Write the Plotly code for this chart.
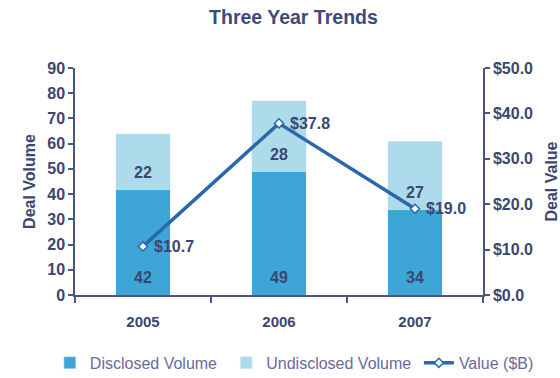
import plotly.graph_objects as go

years = ["2005", "2006", "2007"]
disclosed = [42, 49, 34]
undisclosed = [22, 28, 27]
value_b = [10.7, 37.8, 19.0]

txt = "#3A4770"
c_disc = "#3DA6D6"
c_undisc = "#AEDBEC"
c_line = "#2A67AD"
ax_c = "#4A5580"
leg_c = "#6A6AA0"
font_fam = "Arial, Liberation Sans, sans-serif"

fig = go.Figure()
fig.add_trace(go.Bar(x=years, y=disclosed, name="Disclosed Volume",
                     marker_color=c_disc, yaxis="y", legend="legend"))
fig.add_trace(go.Bar(x=years, y=undisclosed, name="Undisclosed Volume",
                     marker_color=c_undisc, yaxis="y", legend="legend2"))
fig.add_trace(go.Scatter(x=years, y=value_b, name="Value ($B)", yaxis="y2",
                         legend="legend3",
                         mode="lines+markers",
                         line=dict(color=c_line, width=3.5),
                         marker=dict(symbol="diamond", size=7, color="white",
                                     line=dict(color=c_line, width=1.5))))

lab_font = dict(size=16, color=txt, family=font_fam, weight="bold")
ann = []
for i, y in enumerate(years):
    ann.append(dict(x=i, y=0, xref="x", yref="y", text=str(disclosed[i]),
                    showarrow=False, yanchor="middle", yshift=18, font=lab_font))
    ann.append(dict(x=i, y=disclosed[i], xref="x", yref="y", text=str(undisclosed[i]),
                    showarrow=False, yanchor="middle", yshift=17, font=lab_font))
    ann.append(dict(x=i, y=value_b[i], xref="x", yref="y2", text=f"${value_b[i]:.1f}",
                    showarrow=False, xanchor="left", yanchor="middle", xshift=9,
                    font=lab_font))


def leg(x):
    return dict(orientation="h", xref="container", yref="container",
                x=x, xanchor="left", y=0.04, yanchor="middle",
                font=dict(size=16, color=leg_c, family=font_fam),
                itemwidth=30, bgcolor="rgba(0,0,0,0)")


fig.update_layout(
    width=560, height=378,
    margin=dict(l=75, r=77, t=68, b=83, autoexpand=False),
    paper_bgcolor="white", plot_bgcolor="white",
    barmode="stack", bargap=0.6,
    title=dict(text="<b>Three Year Trends</b>", x=0.524, xanchor="center",
               y=0.955, yanchor="middle",
               font=dict(size=19.5, color="#3C4B7A", family=font_fam)),
    font=dict(family=font_fam, color=txt),
    xaxis=dict(type="category", range=[-0.5, 2.5],
               showline=True, linecolor=ax_c, linewidth=1.5,
               ticks="outside", tickson="boundaries", ticklen=6,
               tickcolor=ax_c, tickwidth=1.5, ticklabelstandoff=12,
               tickfont=dict(size=15, color=txt, weight="bold"),
               showgrid=False, zeroline=False),
    yaxis=dict(range=[0, 90], dtick=10, showline=True, linecolor=ax_c,
               linewidth=1.5, ticks="outside", ticklen=5, tickcolor=ax_c,
               tickwidth=1.5, showgrid=False, zeroline=False,
               tickfont=dict(size=16, color=txt, weight="bold"),
               title=dict(text="Deal Volume", standoff=8,
                          font=dict(size=16, color=txt, weight="bold"))),
    yaxis2=dict(range=[0, 50], dtick=10, overlaying="y", side="right",
                tickprefix="$", tickformat=".1f",
                showline=True, linecolor=ax_c, linewidth=1.5,
                ticks="outside", ticklen=5, tickcolor=ax_c, tickwidth=1.5,
                showgrid=False, zeroline=False,
                tickfont=dict(size=16, color=txt, weight="bold"),
                title=dict(text="Deal Value", standoff=17,
                           font=dict(size=16, color=txt, weight="bold"))),
    legend=leg(0.089),
    legend2=leg(0.404),
    legend3=leg(0.748),
    annotations=ann,
    showlegend=True,
)

fig.write_html("out.html")
